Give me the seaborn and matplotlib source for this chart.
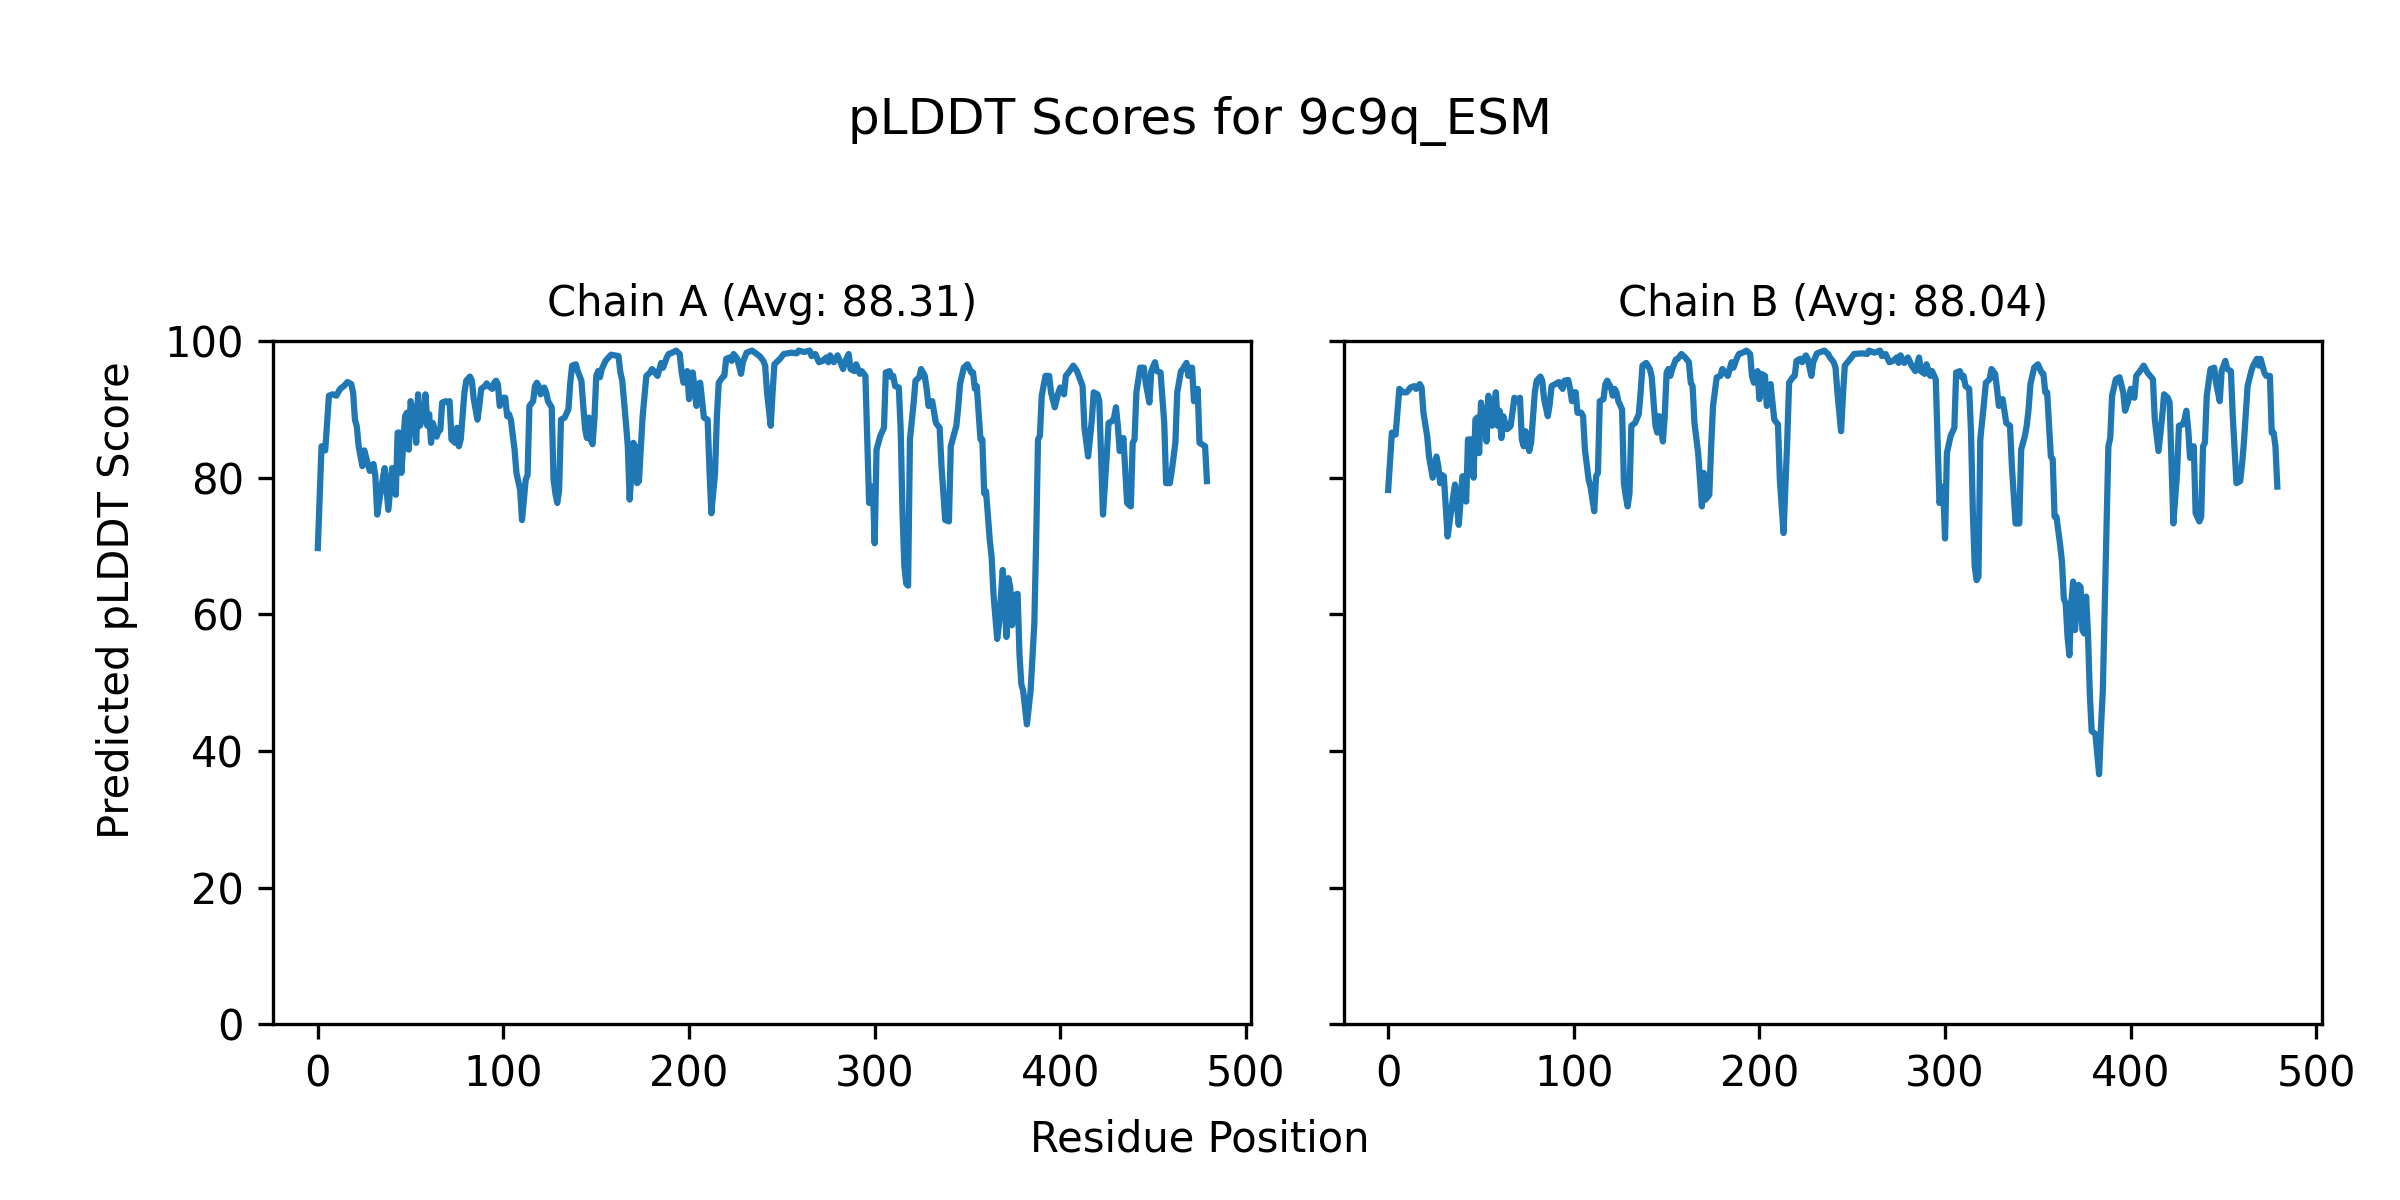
import matplotlib
matplotlib.use("Agg")
import matplotlib.pyplot as plt
import seaborn as sns

# ----------------------------
# pLDDT values (residue index, score)
# ----------------------------

model_name = "9c9q_ESM"

res_a = [0, 2, 4, 6, 8, 10, 12, 14, 16, 18, 19, 20, 21, 22, 24, 25, 27, 28, 30, 31,
         32, 34, 36, 38, 40, 42, 43, 44, 45, 47, 48, 49, 50, 52, 53, 54, 55, 57, 58, 59,
         60, 61, 62, 64, 65, 66, 67, 69, 70, 71, 72, 74, 75, 76, 77, 79, 80, 82, 83, 84,
         86, 87, 88, 90, 91, 92, 94, 95, 96, 97, 98, 100, 101, 102, 103, 104, 106, 107, 109, 110,
         112, 113, 114, 116, 117, 118, 119, 120, 122, 123, 124, 126, 127, 128, 129, 130, 131, 133, 135, 136,
         137, 139, 140, 142, 143, 144, 145, 146, 147, 148, 149, 150, 151, 152, 153, 155, 156, 158, 160, 162,
         163, 164, 166, 167, 168, 170, 171, 172, 173, 175, 177, 179, 180, 181, 183, 185, 186, 188, 189, 191,
         193, 195, 196, 197, 199, 200, 201, 202, 204, 205, 206, 208, 210, 211, 212, 214, 215, 216, 218, 219,
         220, 222, 223, 224, 226, 228, 229, 231, 232, 234, 236, 238, 240, 241, 242, 244, 245, 246, 249, 251,
         255, 258, 259, 262, 265, 266, 268, 270, 272, 274, 275, 276, 278, 280, 282, 283, 284, 286, 287, 289,
         290, 292, 293, 295, 296, 297, 299, 300, 301, 303, 305, 306, 308, 309, 310, 311, 313, 314, 315, 316,
         317, 318, 319, 321, 322, 324, 325, 327, 328, 329, 331, 333, 335, 336, 338, 340, 341, 343, 344, 345,
         346, 348, 350, 352, 353, 354, 355, 357, 358, 359, 360, 362, 363, 364, 366, 367, 369, 370, 371, 372,
         373, 374, 375, 377, 378, 379, 380, 382, 384, 386, 387, 388, 389, 390, 392, 394, 395, 397, 399, 400,
         402, 403, 405, 407, 409, 412, 413, 415, 417, 418, 420, 421, 423, 425, 426, 428, 429, 430, 431, 432,
         434, 436, 437, 438, 439, 440, 441, 443, 445, 446, 448, 449, 451, 452, 454, 456, 457, 459, 460, 462,
         463, 465, 466, 468, 469, 470, 471, 472, 474, 475, 478, 479]

plddt_a = [69.7, 84.6, 84.0, 92.0, 92.2, 92.0, 93.0, 93.4, 94.0, 93.7, 92.5, 88.5, 87.5, 84.6, 81.7, 84.0, 82.0, 81.0, 82.0, 80.2,
           74.6, 78.2, 81.4, 75.3, 81.4, 77.5, 86.6, 86.6, 80.7, 89.0, 89.5, 84.1, 91.2, 88.5, 85.1, 92.2, 87.6, 89.0, 92.2, 87.6,
           89.3, 85.1, 88.0, 86.0, 86.8, 87.0, 91.0, 91.2, 91.0, 91.2, 85.6, 85.1, 87.3, 84.6, 85.6, 92.5, 94.2, 94.8, 94.2, 91.5,
           88.5, 90.5, 93.0, 93.4, 93.8, 93.4, 93.0, 93.9, 94.2, 93.7, 90.5, 91.7, 91.7, 89.0, 89.3, 88.5, 84.1, 80.7, 78.2, 73.8,
           79.7, 80.4, 90.5, 91.2, 93.4, 93.9, 93.4, 92.2, 93.2, 92.5, 91.2, 90.3, 79.7, 77.7, 76.3, 78.2, 88.5, 88.8, 90.0, 93.9,
           96.4, 96.6, 95.6, 94.2, 90.5, 87.1, 85.8, 88.8, 85.6, 84.9, 88.5, 94.9, 95.6, 94.7, 95.9, 97.1, 97.4, 98.0, 97.9, 97.8,
           95.4, 94.2, 88.0, 84.6, 76.8, 85.1, 84.6, 79.2, 79.5, 89.0, 94.9, 95.4, 95.9, 95.6, 94.9, 96.8, 96.1, 97.6, 98.1, 98.3,
           98.6, 98.1, 95.4, 93.9, 95.6, 91.5, 95.2, 95.4, 90.5, 93.7, 93.9, 88.8, 88.5, 81.2, 74.8, 80.7, 89.0, 93.9, 94.7, 94.9,
           97.4, 97.6, 97.1, 98.1, 97.4, 95.2, 96.9, 98.3, 98.4, 98.6, 98.2, 97.8, 97.1, 96.4, 92.5, 87.6, 92.5, 96.6, 97.4, 98.1,
           98.3, 98.2, 98.6, 98.4, 98.6, 97.8, 98.1, 96.9, 97.1, 97.6, 96.9, 97.9, 96.9, 97.9, 96.6, 95.9, 96.9, 98.1, 95.9, 95.6,
           96.6, 95.2, 95.6, 94.9, 85.6, 76.3, 78.7, 70.4, 84.1, 86.1, 87.3, 95.4, 95.6, 94.7, 94.9, 93.4, 93.2, 87.1, 74.8, 67.0,
           64.5, 64.2, 85.6, 91.0, 94.2, 94.7, 95.9, 94.9, 93.0, 90.5, 91.2, 88.0, 87.3, 81.7, 73.8, 73.6, 84.6, 86.6, 87.6, 90.3,
           93.7, 96.1, 96.6, 95.4, 95.4, 93.0, 93.4, 85.6, 85.6, 77.7, 78.0, 70.9, 68.4, 63.0, 56.4, 58.6, 66.5, 62.1, 56.7, 65.3,
           64.0, 58.4, 62.8, 63.0, 54.2, 49.8, 48.8, 43.9, 48.8, 58.6, 70.9, 85.6, 86.1, 92.0, 94.9, 94.9, 92.5, 90.3, 92.5, 93.2,
           92.2, 94.9, 95.6, 96.4, 95.6, 93.4, 87.3, 83.1, 88.5, 92.5, 92.2, 91.2, 74.6, 83.1, 88.0, 88.3, 88.8, 90.3, 87.6, 83.9,
           85.8, 76.3, 76.0, 75.8, 85.1, 85.6, 92.5, 96.1, 96.1, 93.9, 91.0, 95.6, 96.9, 95.6, 95.4, 88.0, 79.2, 79.2, 80.9, 85.1,
           92.5, 95.6, 95.9, 96.8, 94.9, 96.1, 96.1, 91.2, 93.0, 85.1, 84.6, 79.5]

res_b = [0, 2, 4, 6, 8, 10, 12, 14, 15, 17, 18, 19, 21, 22, 24, 26, 27, 28, 29, 30,
         32, 34, 36, 37, 38, 40, 41, 42, 43, 45, 46, 47, 48, 49, 50, 52, 53, 54, 56, 57,
         58, 59, 60, 61, 62, 64, 65, 66, 68, 69, 71, 72, 73, 74, 76, 77, 79, 80, 82, 83,
         84, 86, 87, 88, 90, 92, 93, 94, 95, 97, 98, 99, 100, 101, 102, 104, 105, 106, 108, 109,
         111, 112, 113, 114, 116, 117, 118, 120, 121, 122, 123, 124, 126, 127, 128, 129, 130, 131, 133, 135,
         136, 137, 139, 141, 142, 143, 144, 145, 146, 148, 149, 150, 151, 152, 153, 155, 156, 158, 160, 162,
         163, 164, 165, 167, 169, 170, 171, 173, 174, 175, 177, 179, 180, 181, 183, 185, 186, 188, 189, 191,
         193, 195, 196, 197, 199, 200, 201, 203, 204, 205, 206, 208, 210, 211, 213, 214, 215, 216, 218, 219,
         220, 222, 223, 225, 226, 228, 229, 231, 232, 235, 237, 238, 240, 241, 242, 244, 245, 246, 249, 251,
         255, 258, 259, 262, 265, 266, 268, 270, 272, 274, 275, 276, 278, 280, 282, 284, 285, 286, 287, 289,
         290, 292, 293, 295, 296, 297, 299, 300, 301, 303, 305, 306, 308, 309, 310, 311, 313, 314, 315, 316,
         317, 318, 319, 321, 322, 324, 325, 327, 328, 329, 331, 333, 335, 336, 338, 340, 341, 343, 344, 345,
         346, 348, 350, 352, 353, 354, 355, 357, 358, 359, 360, 362, 363, 364, 365, 366, 367, 368, 369, 370,
         372, 373, 374, 375, 376, 377, 378, 379, 381, 383, 384, 385, 386, 387, 388, 389, 390, 392, 394, 396,
         397, 399, 400, 402, 403, 405, 407, 409, 412, 413, 415, 417, 418, 420, 421, 423, 425, 426, 428, 429,
         430, 431, 432, 434, 435, 437, 438, 439, 440, 441, 443, 445, 446, 448, 449, 451, 452, 454, 455, 457,
         459, 460, 461, 463, 465, 466, 468, 469, 470, 472, 473, 475, 476, 477, 478, 479]

plddt_b = [78.2, 86.6, 86.3, 93.0, 92.5, 92.5, 93.2, 93.4, 93.0, 93.7, 93.2, 89.5, 86.1, 83.1, 80.0, 83.1, 81.7, 79.2, 80.4, 80.2,
           71.4, 75.3, 79.0, 76.3, 73.1, 80.2, 80.2, 76.5, 85.6, 85.6, 80.0, 88.5, 88.8, 83.6, 91.0, 88.0, 85.3, 92.0, 87.6, 90.0,
           92.5, 87.6, 89.8, 85.8, 89.0, 87.1, 87.3, 87.6, 91.7, 91.2, 91.7, 85.6, 84.6, 86.8, 83.9, 85.1, 92.5, 94.2, 94.8, 94.2,
           91.5, 89.0, 90.7, 93.4, 93.7, 94.0, 93.4, 93.0, 94.2, 94.3, 93.0, 91.2, 92.5, 92.5, 89.5, 89.5, 89.0, 84.1, 79.7, 78.7,
           75.1, 80.2, 80.7, 91.2, 91.5, 93.7, 94.2, 93.2, 92.0, 93.0, 92.5, 91.2, 90.0, 79.2, 77.3, 75.8, 77.7, 87.6, 88.0, 89.3,
           92.5, 96.4, 96.8, 95.9, 94.7, 91.0, 87.6, 86.6, 89.0, 85.3, 89.0, 95.4, 95.9, 94.9, 95.9, 97.3, 97.4, 98.1, 97.6, 96.9,
           93.9, 93.4, 88.0, 83.6, 75.8, 80.7, 76.8, 77.5, 84.6, 90.5, 94.7, 94.9, 95.9, 95.6, 94.9, 96.9, 96.1, 97.6, 98.1, 98.3,
           98.6, 98.1, 94.9, 93.9, 95.6, 91.5, 95.2, 94.9, 90.5, 93.4, 93.7, 88.5, 87.8, 79.7, 71.9, 78.7, 85.6, 93.9, 94.7, 94.9,
           97.1, 97.4, 96.9, 97.9, 97.4, 94.9, 96.9, 98.2, 98.3, 98.6, 98.1, 97.6, 96.9, 96.1, 92.5, 86.8, 92.0, 96.4, 97.4, 98.1,
           98.2, 98.1, 98.6, 98.3, 98.6, 97.8, 98.1, 96.9, 97.1, 97.6, 96.8, 97.9, 96.8, 97.6, 96.4, 95.6, 96.6, 97.6, 95.6, 95.2,
           96.6, 94.9, 95.6, 94.4, 85.1, 76.3, 78.7, 71.1, 83.6, 86.1, 87.3, 95.4, 95.6, 94.7, 94.9, 93.4, 93.0, 86.6, 74.8, 67.0,
           65.0, 65.5, 85.6, 91.0, 93.9, 94.4, 95.9, 95.2, 93.0, 90.5, 91.5, 88.0, 87.6, 81.7, 73.3, 73.3, 84.1, 86.1, 87.6, 90.0,
           93.7, 96.1, 96.6, 95.4, 95.2, 92.5, 92.5, 83.1, 82.7, 74.3, 74.3, 70.2, 67.7, 62.3, 61.6, 56.7, 54.0, 61.6, 64.8, 57.7,
           64.3, 64.0, 57.7, 57.2, 62.6, 57.2, 48.3, 42.9, 42.5, 36.6, 43.4, 48.8, 61.1, 72.8, 84.6, 85.8, 92.0, 94.4, 94.7, 92.5,
           89.8, 91.5, 93.0, 91.7, 94.9, 95.6, 96.4, 95.4, 94.4, 88.5, 83.9, 89.0, 92.2, 91.7, 91.0, 73.3, 80.7, 87.6, 87.8, 88.5,
           89.8, 87.1, 82.9, 84.6, 74.8, 73.6, 74.3, 84.6, 85.1, 92.0, 95.9, 96.1, 93.9, 91.2, 95.6, 97.1, 95.9, 95.6, 89.0, 79.2,
           79.5, 81.9, 85.1, 93.4, 95.6, 96.4, 97.4, 96.4, 97.4, 95.4, 94.9, 94.9, 86.6, 86.6, 84.6, 78.7]

chains = ["A", "B"]
avg_scores = [88.31, 88.04]

# ----------------------------
# Plot
# ----------------------------

fig, axes = plt.subplots(1, 2, figsize=(8, 4), dpi=300, sharey=True)
fig.subplots_adjust(left=0.1139, right=0.9674, bottom=0.1464, top=0.7158, wspace=0.0944)

for ax, chain, avg, res, scores in zip(axes, chains, avg_scores, [res_a, res_b], [plddt_a, plddt_b]):
    sns.lineplot(x=res, y=scores, ax=ax, color="#1f77b4", linewidth=1.5)
    ax.set_ylim(0, 100)
    ax.set_title(f"Chain {chain} (Avg: {avg:.2f})", fontsize=10)
    ax.set_xlabel("")
    ax.set_ylabel("")

fig.suptitle(f"pLDDT Scores for {model_name}", fontsize=12, y=0.92)
fig.text(0.5, 0.04, "Residue Position", ha="center", fontsize=10)
fig.text(0.04, 0.5, "Predicted pLDDT Score", va="center", rotation="vertical", fontsize=10)

plt.savefig("out.png", dpi=300)
plt.close()
